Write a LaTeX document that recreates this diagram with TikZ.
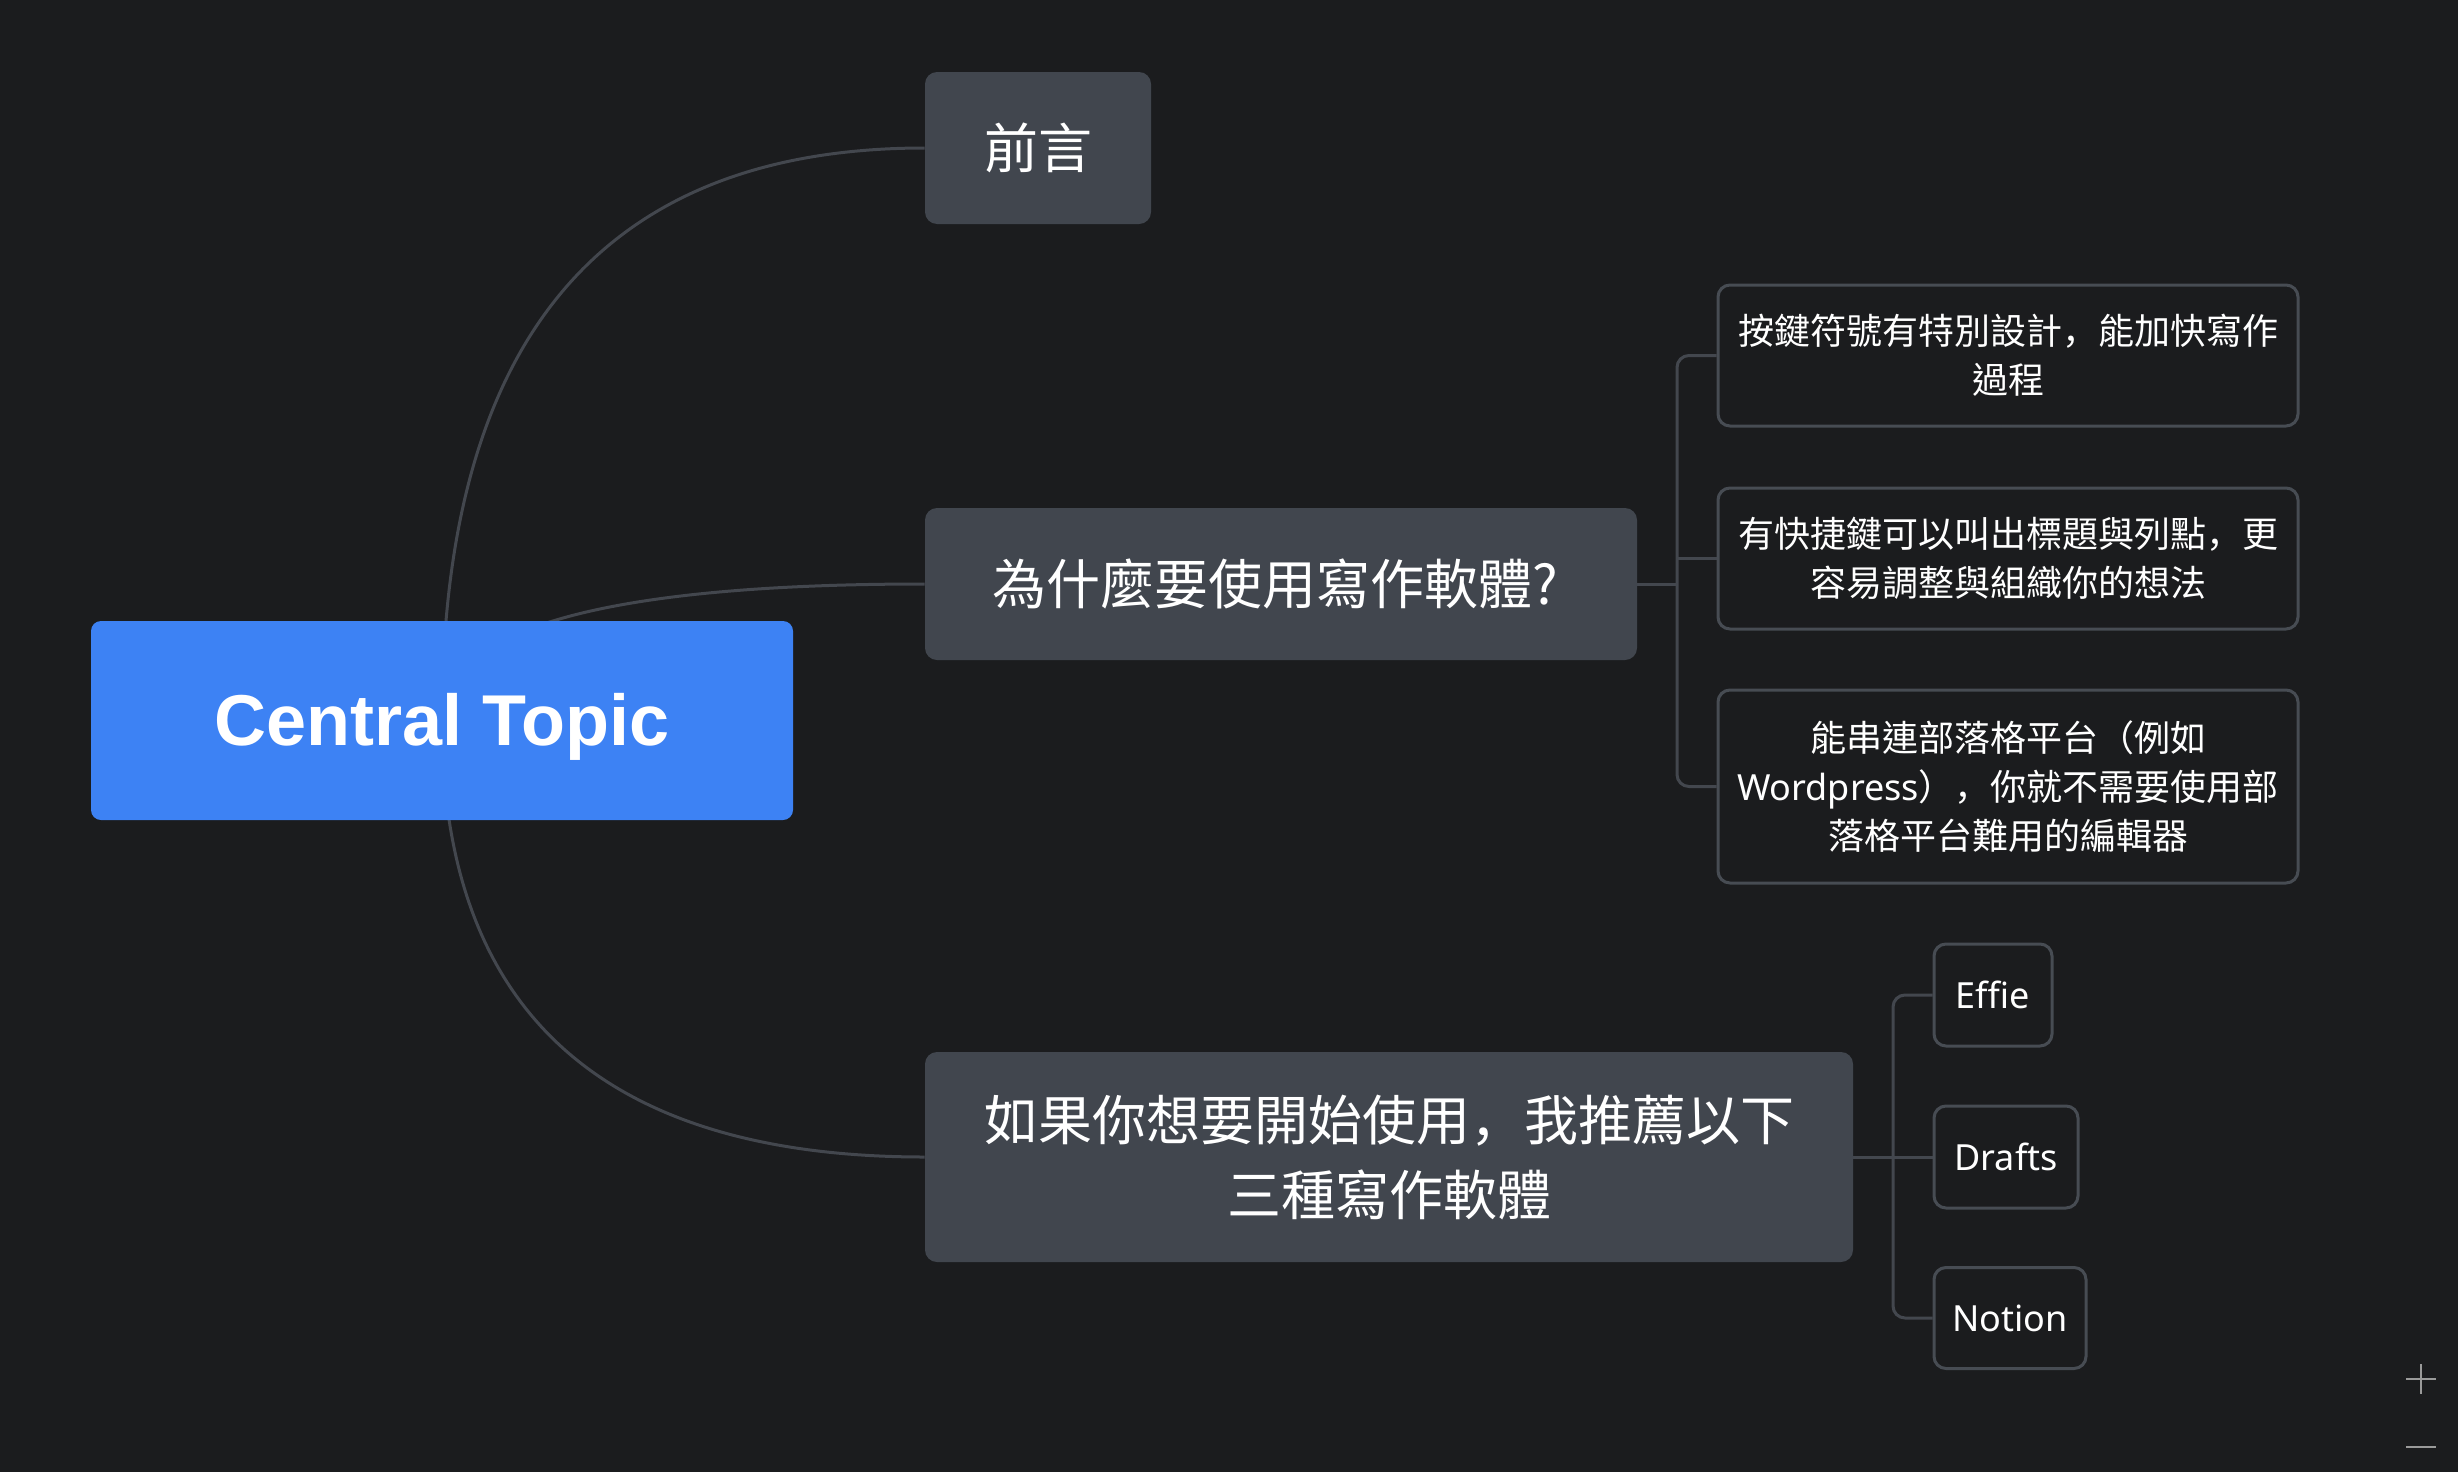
\documentclass[tikz,border=0pt]{standalone}
\usepackage{fontspec}
\setmainfont{Noto Sans CJK TC}
\newfontfamily\latin{Noto Sans}
\newfontfamily\heavylatin{Liberation Sans}
\newfontfamily\scfont{Noto Sans CJK SC}
\newcommand{\cm}{{\scfont ，}}
\usetikzlibrary{calc,backgrounds}
\definecolor{bg}{HTML}{1B1C1E}
\definecolor{topicblue}{HTML}{3D82F4}
\definecolor{boxgray}{HTML}{41464E}
\definecolor{edgegray}{HTML}{474C53}
\definecolor{linegray}{HTML}{43474E}
\definecolor{zoomgray}{HTML}{9A9A9A}
\begin{document}
\begin{tikzpicture}[x=0.5pt,y=-0.5pt,
  central/.style={fill=topicblue, rounded corners=5pt, text=white, inner sep=0pt, font=\heavylatin\bfseries\fontsize{36}{42}\selectfont},
  maintopic/.style={fill=boxgray, rounded corners=6pt, text=white, inner sep=0pt, align=center, font=\fontsize{27}{37.5}\selectfont},
  subtopic/.style={draw=edgegray, line width=1.5pt, fill=bg, rounded corners=6pt, text=white, inner sep=0pt, align=center, font=\fontsize{18}{24.5}\selectfont},
  leaf/.style={subtopic, font=\latin\fontsize{18}{24}\selectfont},
  conn/.style={draw=linegray, line width=1.5pt},
]
\useasboundingbox (0,0) rectangle (2458,1472);

\node[central, minimum width=351pt, minimum height=99.5pt] (ct) at (442,720.5) {\raisebox{-12.25pt}[0pt][0pt]{Central Topic}};
\node[maintopic, minimum width=113pt, minimum height=76pt] (qy) at (1038,148) {前言};
\node[maintopic, minimum width=356pt, minimum height=76pt] (why) at (1281,584) {為什麼要使用寫作軟體?\hspace{6pt}};
\node[maintopic, minimum width=464pt, minimum height=105pt] (rec) at (1389,1157) {如果你想要開始使用\cm 我推薦以下\\三種寫作軟體};

\node[subtopic, minimum width=290pt, minimum height=70.5pt] (b1) at (2008,355.5) {按鍵符號有特別設計\cm 能加快寫作\\過程};
\node[subtopic, minimum width=290pt, minimum height=70.5pt] (b2) at (2008,558.5) {有快捷鍵可以叫出標題與列點\cm 更\\容易調整與組織你的想法};
\node[subtopic, minimum width=290pt, minimum height=96.5pt] (b3) at (2008,786.5) {能串連部落格平台（例如\\{\latin Wordpress}）\cm 你就不需要使用部\\落格平台難用的編輯器};

\node[leaf, minimum width=59pt, minimum height=51pt] (ef) at (1993,995) {Effie};
\node[leaf, minimum width=72pt, minimum height=51pt] (dr) at (2006,1157) {Drafts};
\node[leaf, minimum width=76pt, minimum height=50.5pt] (no) at (2010,1318) {Notion};

\coordinate (bus1) at (1677,0);
\coordinate (bus2) at (1893,0);

\begin{pgfonlayer}{background}
\fill[bg] (0,0) rectangle (2458,1472);
\draw[conn] (ct.center) .. controls ($(ct.center)!0.6667!(ct.center |- qy.west)$) and ($(qy.west)!0.6667!(ct.center |- qy.west)$) .. (qy.west);
\draw[conn] (ct.center) .. controls ($(ct.center)!0.6667!(ct.center |- why.west)$) and ($(why.west)!0.6667!(ct.center |- why.west)$) .. (why.west);
\draw[conn] (ct.center) .. controls ($(ct.center)!0.6667!(ct.center |- rec.west)$) and ($(rec.west)!0.6667!(ct.center |- rec.west)$) .. (rec.west);

\draw[conn] (why.east) -- (why.east -| bus1);
\draw[conn, rounded corners=6pt] (b1.west) -- (b1.west -| bus1) -- (b3.west -| bus1) -- (b3.west);
\draw[conn] (b2.west -| bus1) -- (b2.west);

\draw[conn] (rec.east) -- (rec.east -| bus2);
\draw[conn, rounded corners=6pt] (ef.west) -- (ef.west -| bus2) -- (no.west -| bus2) -- (no.west);
\draw[conn] (dr.west -| bus2) -- (dr.west);
\end{pgfonlayer}

\draw[zoomgray, line width=1pt] (2406,1379) -- (2436,1379) (2421,1364) -- (2421,1394);
\draw[zoomgray, line width=1pt] (2406,1447) -- (2436,1447);
\end{tikzpicture}
\end{document}
